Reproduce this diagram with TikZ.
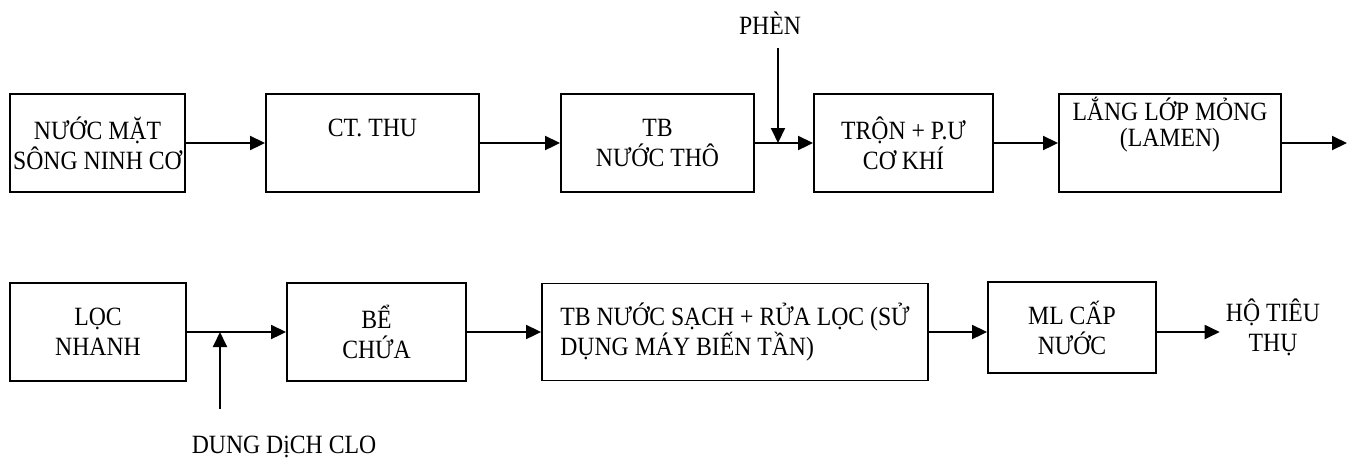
\documentclass[tikz,border=0pt]{standalone}
\usepackage{fontspec}
\setmainfont{Liberation Serif}[FakeStretch=0.9]
\usetikzlibrary{arrows.meta,positioning}
\newcommand{\liftup}[2]{\raisebox{#1}[\height][\depth]{#2}}

\begin{document}
\begin{tikzpicture}[
    x=0.02cm, y=-0.02cm,
    font=\fontsize{15}{17}\selectfont,
    block/.style={rectangle, draw, line width=1.1pt, align=center, inner sep=2pt, minimum height=1.96cm},
    arrow/.style={-{Triangle[length=0.3cm, width=0.28cm]}, line width=1.1pt}
]
    \useasboundingbox (0,0) rectangle (1358,458);

    % Top row
    \node[block, minimum width=3.5cm] (song) at (97.5,143) {NƯỚC MẶT\\SÔNG NINH CƠ};
    \node[block, minimum width=4.26cm] (ctthu) at (372.5,143) {\liftup{0.3cm}{CT. THU}};
    \node[block, minimum width=3.86cm] (tbtho) at (657.5,143) {TB\\NƯỚC THÔ};
    \node[block, minimum width=3.58cm] (tron) at (903.5,143) {TRỘN + P.Ư\\CƠ KHÍ};
    \node[block, minimum width=4.44cm] (lang) at (1170,143) {\liftup{0.32cm}{LẮNG LỚP MỎNG}\\\liftup{0.4cm}{(LAMEN)}};
    \coordinate (out) at (1347,143);

    % Chemicals
    \node (phen) at (770,23) {PHÈN};
    \coordinate (phenjoin) at (778,143);

    % Bottom row
    \node[block, minimum width=3.52cm] (loc) at (98,332) {LỌC\\NHANH};
    \node[block, minimum width=3.58cm] (bechua) at (376.5,332) {BỂ\\CHỨA};
    \node[block, minimum width=7.72cm, minimum height=1.94cm, align=left] (tbsach) at (735,332) {TB NƯỚC SẠCH + RỬA LỌC (SỬ\\DỤNG MÁY BIẾN TẦN)};
    \node[block, minimum width=3.36cm, minimum height=1.82cm] (mlcap) at (1072,327.5) {ML CẤP\\NƯỚC};
    \node[align=center] (hotieu) at (1273,327) {HỘ TIÊU\\THỤ};

    \node (clo) at (284,447) {DUNG DịCH CLO};
    \coordinate (clojoin) at (220,332);

    % Arrows
    \draw[arrow] (song) -- (ctthu);
    \draw[arrow] (ctthu) -- (tbtho);
    \draw[arrow] (tbtho) -- (tron);
    \draw[arrow] (tron) -- (lang);
    \draw[arrow] (lang) -- (out);
    \draw[arrow] ([yshift=-0.15cm]phen.south -| phenjoin) -- (phenjoin);
    \draw[arrow] (loc) -- (bechua);
    \draw[arrow] (bechua) -- (tbsach);
    \draw[arrow] (tbsach.east) -- (tbsach.east -| mlcap.west);
    \draw[arrow] (mlcap.east |- tbsach.east) -- (hotieu.west |- tbsach.east);
    \draw[arrow] ([yshift=0.42cm]clo.north -| clojoin) -- (clojoin);

\end{tikzpicture}
\end{document}
